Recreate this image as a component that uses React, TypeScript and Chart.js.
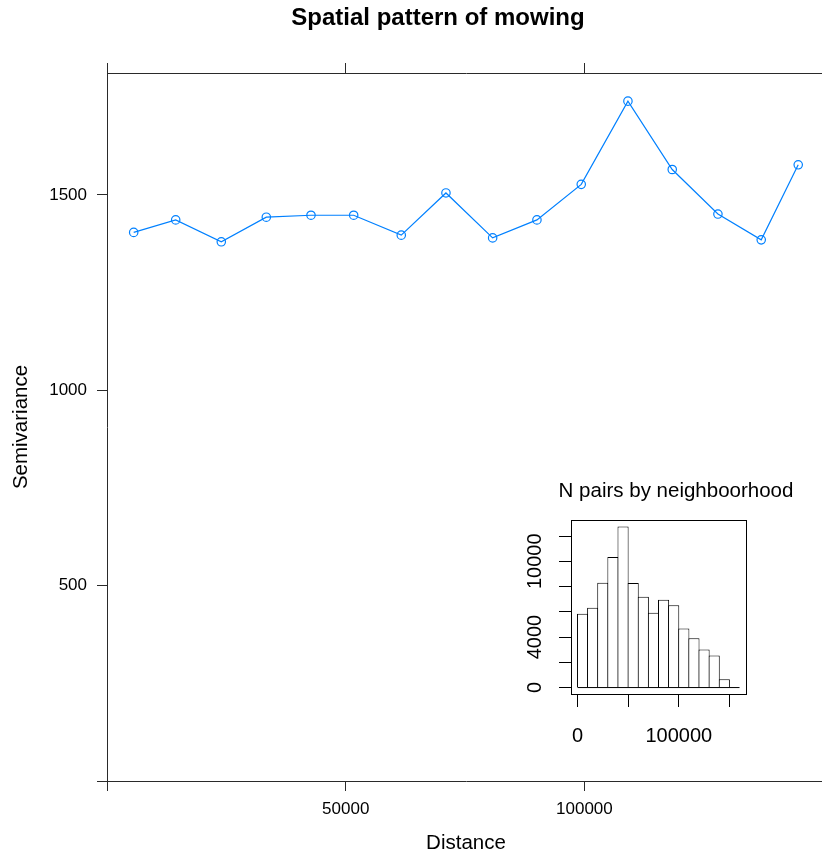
import React, { useEffect, useRef } from "react";
import { Chart, registerables } from "chart.js";

Chart.register(...registerables);

// ---------- main panel data ----------
const chartTitle = "Spatial pattern of mowing";
const xAxisTitle = "Distance";
const yAxisTitle = "Semivariance";

const lagDistance = [
  5590, 14390, 23940, 33370, 42730, 51670, 61640, 71000,
  80780, 90060, 99340, 109120, 118400, 127970, 137040, 144790,
];
const semivariance = [
  1404, 1436, 1380, 1443, 1448, 1448, 1397, 1505,
  1390, 1436, 1527, 1740, 1565, 1451, 1385, 1577,
];

const mainXMin = 0;
const mainXMax = 150400;
const mainYMin = 0;
const mainYMax = 1812;
const mainXTickValues = [0, 50000, 100000];
const mainXTickLabels = ["", "50000", "100000"];
const mainYTickValues = [0, 500, 1000, 1500];
const mainYTickLabels = ["", "500", "1000", "1500"];

// ---------- inset histogram data ----------
const insetTitle = "N pairs by neighboorhood";
const insetBinStarts = [
  0, 10000, 20000, 30000, 40000, 50000, 60000, 70000,
  80000, 90000, 100000, 110000, 120000, 130000, 140000, 150000,
];
const insetBinWidth = 10000;
const insetCounts = [
  5837, 6312, 8295, 10333, 12760, 8271, 7185, 5916,
  6947, 6527, 4671, 3910, 3006, 2530, 658, 0,
];
const insetXTickValues = [0, 50000, 100000, 150000];
const insetXTickLabels = ["0", "", "100000", ""];
const insetYTickValues = [0, 2000, 4000, 6000, 8000, 10000, 12000];
const insetYTickLabels = ["0", "", "4000", "", "", "10000", ""];

const FONT = '"Liberation Sans", Arial, Helvetica, sans-serif';
const BLUE = "#0080ff";
const AXIS = "#2a2a2a";

export default function App() {
  const mainRef = useRef<HTMLCanvasElement | null>(null);
  const insetRef = useRef<HTMLCanvasElement | null>(null);

  useEffect(() => {
    if (!mainRef.current || !insetRef.current) return;

    const main = new Chart(mainRef.current, {
      type: "line",
      data: {
        datasets: [
          {
            data: lagDistance.map((x, i) => ({ x, y: semivariance[i] })),
            borderColor: BLUE,
            borderWidth: 1.2,
            pointRadius: 4.2,
            pointBorderWidth: 1.2,
            pointBorderColor: BLUE,
            pointBackgroundColor: "rgba(0,0,0,0)",
            fill: false,
            tension: 0,
          },
        ],
      },
      options: {
        responsive: false,
        animation: false,
        events: [],
        layout: { padding: 0 },
        plugins: {
          legend: { display: false },
          tooltip: { enabled: false },
          title: {
            display: true,
            text: chartTitle,
            color: "#000",
            font: { family: FONT, size: 24, weight: "bold", lineHeight: 1.2 },
            padding: { top: 3.5, bottom: 30.7 },
          },
        },
        scales: {
          x: {
            type: "linear",
            position: "bottom",
            min: mainXMin,
            max: mainXMax,
            afterBuildTicks: (s: any) => {
              s.ticks = mainXTickValues.map((v) => ({ value: v }));
            },
            afterFit: (s: any) => {
              s.height = 79;
            },
            ticks: {
              autoSkip: false,
              maxRotation: 0,
              minRotation: 0,
              padding: 8,
              color: "#000",
              font: { family: FONT, size: 17 },
              callback: (_v: any, i: number) => mainXTickLabels[i],
            },
            grid: {
              drawOnChartArea: false,
              drawTicks: true,
              tickLength: 10,
              color: AXIS,
              tickColor: AXIS,
              tickWidth: 1,
            },
            border: { display: true, color: AXIS, width: 1 },
            title: {
              display: true,
              text: xAxisTitle,
              color: "#000",
              font: { family: FONT, size: 20.5 },
              padding: { top: 0, bottom: 4 },
            },
          },
          xTop: {
            type: "linear",
            axis: "x",
            position: "top",
            min: mainXMin,
            max: mainXMax,
            afterBuildTicks: (s: any) => {
              s.ticks = mainXTickValues.map((v) => ({ value: v }));
            },
            afterFit: (s: any) => {
              s.height = 10;
            },
            ticks: { display: false },
            grid: {
              drawOnChartArea: false,
              drawTicks: true,
              tickLength: 10,
              color: AXIS,
              tickColor: AXIS,
              tickWidth: 1,
            },
            border: { display: true, color: AXIS, width: 1 },
          },
          y: {
            type: "linear",
            position: "left",
            min: mainYMin,
            max: mainYMax,
            afterBuildTicks: (s: any) => {
              s.ticks = mainYTickValues.map((v) => ({ value: v }));
            },
            afterFit: (s: any) => {
              s.width = 107;
            },
            ticks: {
              autoSkip: false,
              padding: 10,
              color: "#000",
              font: { family: FONT, size: 17 },
              callback: (_v: any, i: number) => mainYTickLabels[i],
            },
            grid: {
              drawOnChartArea: false,
              drawTicks: true,
              tickLength: 10,
              color: AXIS,
              tickColor: AXIS,
              tickWidth: 1,
            },
            border: { display: true, color: AXIS, width: 1 },
            title: {
              display: true,
              text: yAxisTitle,
              color: "#000",
              font: { family: FONT, size: 20.5 },
              padding: { top: 9, bottom: 0 },
            },
          },
          yRight: {
            type: "linear",
            axis: "y",
            position: "right",
            min: mainYMin,
            max: mainYMax,
            afterFit: (s: any) => {
              s.width = 51;
            },
            ticks: { display: false },
            grid: { display: false },
            border: { display: false },
          },
        },
      },
    } as any);

    const maxCount = Math.max(...insetCounts);
    const lastEdge = insetBinStarts[insetBinStarts.length - 1] + insetBinWidth;
    const xr = lastEdge - insetBinStarts[0];
    const insetXMin = insetBinStarts[0] - 0.04 * xr;
    const insetXMax = lastEdge + 0.04 * xr;
    const insetYMin = -0.04 * maxCount;
    const insetYMax = maxCount * 1.04;

    const inset = new Chart(insetRef.current, {
      type: "bar",
      data: {
        datasets: [
          {
            type: "line",
            data: [
              { x: insetBinStarts[0], y: 0 },
              { x: lastEdge, y: 0 },
            ],
            borderColor: "#000",
            borderWidth: 1,
            pointRadius: 0,
            fill: false,
          },
          {
            type: "bar",
            data: insetBinStarts.map((s, i) => ({
              x: s + insetBinWidth / 2,
              y: insetCounts[i],
            })),
            backgroundColor: "#ffffff",
            borderColor: "#000",
            borderSkipped: false,
            borderWidth: { top: 1, right: 1, bottom: 0, left: 1 },
            inflateAmount: 0,
            barPercentage: 1.1,
            categoryPercentage: 1,
          },
        ],
      },
      options: {
        responsive: false,
        animation: false,
        events: [],
        layout: { padding: 0 },
        plugins: {
          legend: { display: false },
          tooltip: { enabled: false },
          title: {
            display: true,
            text: insetTitle,
            color: "#000",
            font: { family: FONT, size: 20.5, weight: "normal", lineHeight: 1.2 },
            padding: { top: 8.7, bottom: 16.7 },
          },
        },
        scales: {
          x: {
            type: "linear",
            position: "bottom",
            offset: false,
            min: insetXMin,
            max: insetXMax,
            afterBuildTicks: (s: any) => {
              s.ticks = insetXTickValues.map((v) => ({ value: v }));
            },
            afterFit: (s: any) => {
              s.height = 66;
            },
            ticks: {
              autoSkip: false,
              maxRotation: 0,
              minRotation: 0,
              padding: 17,
              color: "#000",
              font: { family: FONT, size: 20 },
              callback: (_v: any, i: number) => insetXTickLabels[i],
            },
            grid: {
              offset: false,
              drawOnChartArea: false,
              drawTicks: true,
              tickLength: 13,
              color: "#000",
              tickColor: "#000",
              tickWidth: 1,
            },
            border: { display: true, color: "#000", width: 1 },
          },
          xT: {
            type: "linear",
            axis: "x",
            position: "top",
            min: insetXMin,
            max: insetXMax,
            afterFit: (s: any) => {
              s.height = 0;
            },
            ticks: { display: false },
            grid: { display: false },
            border: { display: true, color: "#000", width: 1 },
          },
          y: {
            type: "linear",
            position: "left",
            min: insetYMin,
            max: insetYMax,
            afterBuildTicks: (s: any) => {
              s.ticks = insetYTickValues.map((v) => ({ value: v }));
            },
            afterFit: (s: any) => {
              s.width = 51;
            },
            ticks: {
              autoSkip: false,
              minRotation: 90,
              maxRotation: 90,
              crossAlign: "center",
              padding: -3.8,
              color: "#000",
              font: { family: FONT, size: 20 },
              callback: (_v: any, i: number) => insetYTickLabels[i],
            },
            grid: {
              drawOnChartArea: false,
              drawTicks: true,
              tickLength: 12,
              color: "#000",
              tickColor: "#000",
              tickWidth: 1,
            },
            border: { display: true, color: "#000", width: 1 },
          },
          yR: {
            type: "linear",
            axis: "y",
            position: "right",
            min: insetYMin,
            max: insetYMax,
            afterFit: (s: any) => {
              s.width = 86;
            },
            ticks: { display: false },
            grid: { display: false },
            border: { display: true, color: "#000", width: 1 },
          },
        },
      },
    } as any);

    return () => {
      main.destroy();
      inset.destroy();
    };
  }, []);

  return (
    <div
      style={{
        position: "absolute",
        left: 0,
        top: 0,
        width: 822,
        height: 853,
        overflow: "hidden",
        background: "#ffffff",
      }}
    >
      <canvas
        ref={mainRef}
        width={876}
        height={860}
        style={{ position: "absolute", left: 0, top: 0, display: "block" }}
      />
      <canvas
        ref={insetRef}
        width={312}
        height={290}
        style={{ position: "absolute", left: 520, top: 470, display: "block" }}
      />
    </div>
  );
}
